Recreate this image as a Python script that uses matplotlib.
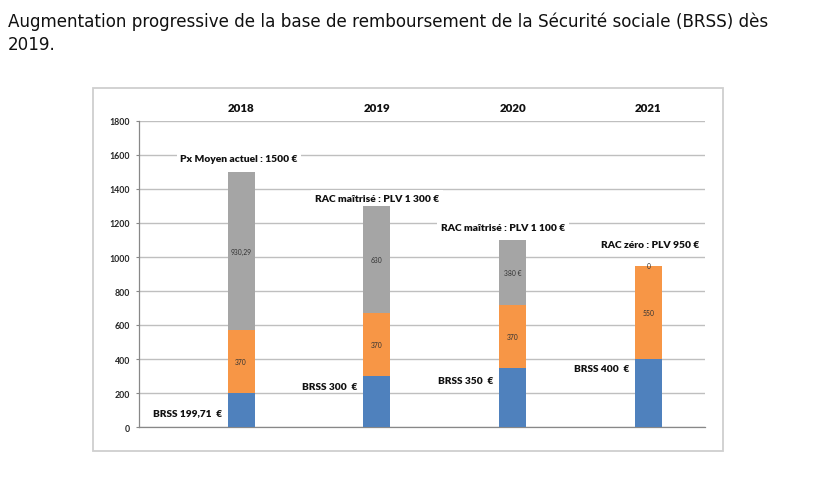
import matplotlib
matplotlib.use("Agg")
import matplotlib.pyplot as plt
from matplotlib.patches import Rectangle

# ---- data ----
years = ["2018", "2019", "2020", "2021"]
brss = [199.71, 300, 350, 400]
mid = [370, 370, 370, 550]
rac = [930.29, 630, 380, 0]
mid_labels = ["370", "370", "370", "550"]
rac_labels = ["930,29", "630", "380 €", "0"]
brss_labels = ["BRSS 199,71  €", "BRSS 300  €", "BRSS 350  €", "BRSS 400  €"]
top_labels = ["Px Moyen actuel : 1500 €", "RAC maîtrisé : PLV 1 300 €",
              "RAC maîtrisé : PLV 1 100 €", "RAC zéro : PLV 950 €"]
yticks = [0, 200, 400, 600, 800, 1000, 1200, 1400, 1600, 1800]
title_lines = ["Augmentation progressive de la base de remboursement de la Sécurité sociale (BRSS) dès",
               "2019."]

# ---- layout (not data) ----
brss_label_y = [88, 241, 276, 347]
top_label_dx = [-0.015, 0.0, -0.07, 0.015]
top_label_y = [1582, 1347, 1171, 1071]

c_blue, c_orange, c_grey = "#4F81BD", "#F79646", "#A5A5A5"
W, H = 826, 481
fig = plt.figure(figsize=(W / 100, H / 100), dpi=100)

for k, line in enumerate(title_lines):
    fig.text(8 / W, 1 - (27 + 22.5 * k) / H, line, ha="left", va="baseline",
             fontsize=12.1, family="DejaVu Sans", color="#111111")

# chart frame
fig.patches.append(Rectangle((93 / W, 1 - 452 / H), (723 - 93) / W, (452 - 89) / H,
                             transform=fig.transFigure, fill=False,
                             edgecolor="#CFCFCF", lw=1.3))

ax = fig.add_axes([139 / W, 1 - 428 / H, (705 - 139) / W, (428 - 122) / H])
x = list(range(len(years)))
bw = 0.2
bottom2 = [b for b in brss]
bottom3 = [b + m for b, m in zip(brss, mid)]
ax.bar(x, brss, width=bw, color=c_blue, zorder=3)
ax.bar(x, mid, width=bw, bottom=bottom2, color=c_orange, zorder=3)
ax.bar(x, rac, width=bw, bottom=bottom3, color=c_grey, zorder=3)

lab_font = dict(family="Lato", fontweight="heavy", color="#111111")
for i in x:
    ax.text(i, bottom2[i] + mid[i] / 2, mid_labels[i], ha="center", va="center",
            fontsize=4.9, family="Lato", color="#333333", zorder=5)
    ax.text(i, bottom3[i] + rac[i] / 2, rac_labels[i], ha="center", va="center",
            fontsize=4.9, family="Lato", color="#333333", zorder=5)
    ax.annotate(brss_labels[i], xy=(i - bw / 2, brss_label_y[i]), xytext=(-4, 0),
                textcoords="offset points", ha="right", va="center",
                fontsize=7.3, zorder=5, **lab_font)
    ax.text(i + top_label_dx[i], top_label_y[i], top_labels[i], ha="center", va="center",
            fontsize=7.4, zorder=4,
            bbox=dict(facecolor="white", edgecolor="none", pad=2.6), **lab_font)

ax.set_xlim(-0.752, 3.417)
ax.set_ylim(0, 1800)
ax.set_yticks(yticks)
ax.set_yticklabels([str(v) for v in yticks], family="Lato", fontsize=6.3,
                   fontweight="bold", color="#262626")
ax.yaxis.grid(True, color="#BFBFBF", lw=1.0, zorder=0)
ax.set_axisbelow(True)
ax.tick_params(axis="y", length=2.3, width=0.8, color="#888888", pad=4)

ax.xaxis.tick_top()
ax.set_xticks(x)
ax.set_xticklabels(years, family="Lato", fontweight="heavy", fontsize=8.3, color="#111111")
ax.tick_params(axis="x", length=0, pad=5.5)

for s in ("top", "right"):
    ax.spines[s].set_visible(False)
for s in ("left", "bottom"):
    ax.spines[s].set_color("#888888")
    ax.spines[s].set_linewidth(0.9)

fig.savefig("out.png", dpi=100)
